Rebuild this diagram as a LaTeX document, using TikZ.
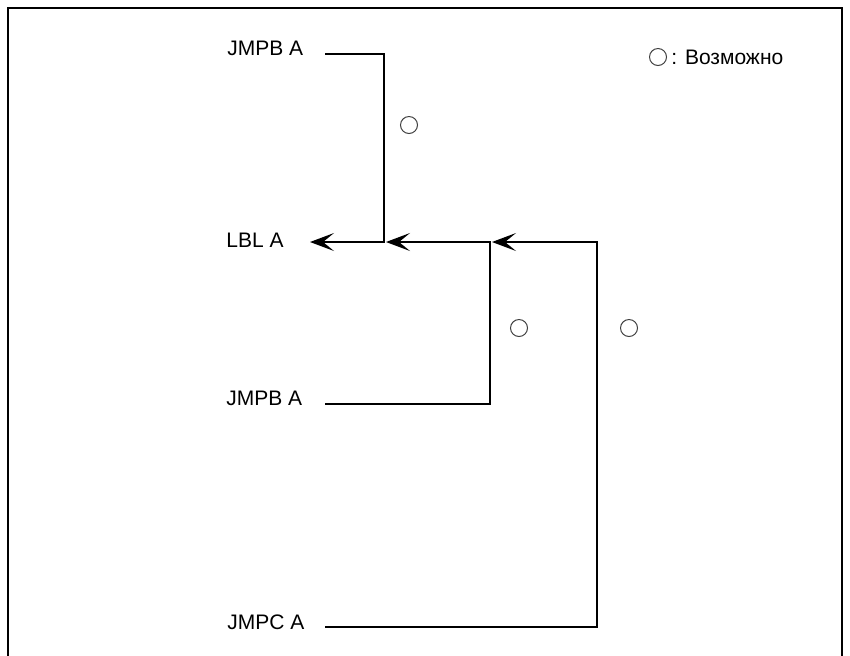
\documentclass[tikz,border=0pt]{standalone}
\usepackage{fontspec}
\setmainfont{Liberation Sans}
\usetikzlibrary{arrows.meta,positioning}

\begin{document}
\begin{tikzpicture}[x=0.5pt,y=-0.5pt,
  label/.style={anchor=west,inner sep=0pt,font=\fontsize{10.5}{12}\selectfont},
  wire/.style={line width=0.7pt},
  arrow/.style={wire,-{Stealth[length=12pt,width=9pt,inset=5.5pt]}},
  okmark/.style={draw=black!75,line width=0.5pt,circle,minimum size=8.5pt,inner sep=0pt}]
  \useasboundingbox (0,0) rectangle (850,655);
  % frame, open at the bottom
  \draw[line width=1.3pt] (8,660) -- (8,8) -- (842,8) -- (842,660);
  % labels
  \node[label] (jmpb1) at (227,48) {JMPB A};
  \node[label] (lbl) at (226,240) {LBL A};
  \node[label] (jmpb2) at (226,398) {JMPB A};
  \node[label] (jmpc) at (227,622) {JMPC A};
  % corners of the jumps
  \coordinate (s1) at (325,54);   \coordinate (c1) at (384,54);
  \coordinate (t1) at (384,242);  \coordinate (e1) at (310,242);
  \coordinate (s2) at (325,404);  \coordinate (c2) at (490,404);
  \coordinate (t2) at (490,242);  \coordinate (e2) at (386,242);
  \coordinate (s3) at (325,627);  \coordinate (c3) at (597,627);
  \coordinate (t3) at (597,242);  \coordinate (e3) at (492,242);
  \draw[arrow] (s1) -- (c1) -- (t1) -- (e1);
  \draw[arrow] (s2) -- (c2) -- (t2) -- (e2);
  \draw[arrow] (s3) -- (c3) -- (t3) -- (e3);
  % marks
  \node[okmark] (ok1) at (409,125) {};
  \node[okmark] (ok2) at (519,328) {};
  \node[okmark] (ok3) at (629,328) {};
  % legend
  \node[okmark] (okkey) at (658,57) {};
  \node[label,right=2pt of okkey] (key) {: Возможно};
\end{tikzpicture}
\end{document}
